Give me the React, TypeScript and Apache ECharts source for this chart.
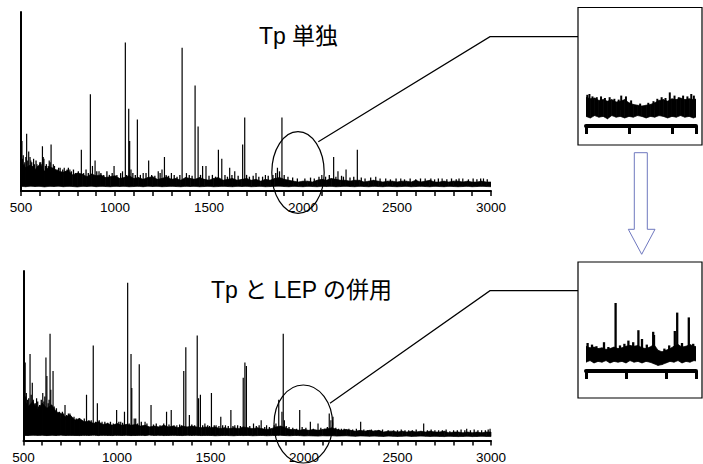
import React, { useEffect, useRef } from "react";
import * as echarts from "echarts";

// ---- main spectra (m/z 500–3000), intensities in % of axis height ----
const axisMin = 500;
const axisMax = 3000;
const axisInterval = 500;

const noiseStart = 500;
const noiseStep = 25;

const topNoiseHi = [
  16, 13, 14.5, 12, 15, 11, 13.5, 12.5, 11, 10.5,
  11.5, 9, 10, 9.5, 8, 9.5, 8.5, 9, 7.5, 8,
  8.5, 7, 7.5, 8.5, 7, 7.5, 6.5, 7.5, 8, 6.5,
  7, 8, 6.5, 7, 6, 7.5, 7, 6.5, 7.5, 6.5,
  6, 7, 7.5, 6, 6.5, 7, 6, 6.5, 7, 6,
  6.5, 5.5, 6.5, 6, 7, 7.5, 6.5, 6, 5.5, 5,
  5.5, 5.5, 5, 6, 6.5, 6, 7, 6.5, 6, 6,
  5.5, 6, 6, 5, 5.5, 6, 5.5, 5, 5.5, 5.5,
  5, 5.5, 5.5, 5, 6, 5, 5.5, 6, 5, 5,
  5.5, 5, 5.5, 5.5, 5, 5.5, 5, 5, 5.5, 5,
  5,
];
const topNoiseLo = [
  2.6, 2.4, 2.7, 2.5, 2.6, 2.3, 2.6, 2.5, 2.7, 2.4,
  2.6, 2.5, 2.3, 2.6, 2.5, 2.7, 2.4, 2.6, 2.5, 2.4,
  2.6, 2.5, 2.6, 2.4, 2.5, 2.6, 2.4, 2.7, 2.5, 2.6,
  2.4, 2.5, 2.6, 2.5, 2.4, 2.6, 2.5, 2.6, 2.4, 2.5,
  2.6, 2.4, 2.5, 2.6, 2.5, 2.4, 2.6, 2.5, 2.6, 2.4,
  2.5, 2.6, 2.4, 2.5, 2.6, 2.7, 2.5, 2.4, 2.6, 2.5,
  2.4, 2.6, 2.5, 2.4, 2.6, 2.5, 2.6, 2.4, 2.5, 2.6,
  2.5, 2.4, 2.6, 2.5, 2.4, 2.6, 2.5, 2.4, 2.6, 2.5,
  2.4, 2.5, 2.6, 2.4, 2.5, 2.6, 2.5, 2.4, 2.6, 2.5,
  2.4, 2.6, 2.5, 2.4, 2.5, 2.6, 2.4, 2.5, 2.6, 2.5,
  2.4,
];
const topPeaks: [number, number][] = [
  [505, 28], [512, 20], [520, 16], [530, 32], [541, 22], [548, 19], [552, 17], [560, 14],
  [567, 18], [575, 12], [585, 15], [595, 13], [605, 16], [614, 25], [622, 18], [630, 14],
  [640, 12], [650, 17], [660, 26], [672, 15], [685, 11], [700, 13], [715, 10], [730, 13],
  [745, 12], [760, 12], [821, 23], [869, 54], [880, 14], [894, 17], [915, 11], [995, 14],
  [1040, 11], [1055, 83], [1073, 46], [1078, 28], [1085, 12], [1119, 40], [1150, 10],
  [1179, 17], [1230, 11], [1250, 12], [1263, 19], [1300, 10], [1357, 80], [1380, 10],
  [1426, 59], [1442, 36], [1466, 14], [1484, 14], [1550, 23], [1568, 18], [1610, 13],
  [1637, 11], [1679, 26], [1690, 41], [1750, 10], [1800, 9], [1864, 13], [1888, 41],
  [2100, 9], [2163, 19], [2186, 11], [2229, 12], [2289, 23], [2387, 8], [2520, 7],
  [2650, 7], [2740, 7], [2850, 7], [2960, 7],
];
const topNoiseSpikes: [number, number][] = [
  [508, 18], [517, 15], [526, 19], [536, 17], [557, 16], [571, 15], [580, 17], [590, 14],
  [600, 16], [611, 15], [618, 19], [635, 15], [645, 14], [655, 16], [666, 13], [678, 14],
  [692, 12], [708, 13], [722, 12], [737, 11], [752, 13], [768, 11], [779, 12], [790, 10],
  [805, 11], [833, 10], [846, 12], [858, 10], [903, 11], [925, 10], [940, 9], [957, 11],
  [970, 9], [985, 10], [1010, 9], [1030, 10], [1062, 9], [1095, 10], [1108, 9], [1135, 9],
  [1165, 10], [1195, 9], [1212, 8.5], [1240, 10], [1272, 9], [1285, 8.5], [1315, 9],
  [1330, 8], [1345, 9], [1395, 9], [1410, 8.5], [1455, 9], [1500, 8.5], [1518, 9],
  [1535, 8], [1585, 9], [1598, 8], [1622, 9], [1655, 8.5], [1700, 9], [1715, 8],
  [1735, 8.5], [1765, 8], [1785, 8], [1815, 8.5], [1840, 9], [1855, 10], [1875, 11],
  [1900, 9], [1920, 8], [1945, 7.5], [1970, 7], [2010, 7], [2040, 7.5], [2060, 7],
  [2085, 8], [2120, 8], [2140, 9], [2175, 8], [2205, 8.5], [2215, 8], [2250, 7.5],
  [2270, 8], [2310, 7.5], [2330, 7], [2360, 7.5], [2410, 7], [2440, 7], [2465, 6.5],
  [2495, 7], [2540, 6.5], [2570, 7], [2600, 6.5], [2625, 7], [2680, 7], [2700, 6.5],
  [2720, 7], [2765, 6.5], [2790, 7], [2815, 6.5], [2830, 7], [2880, 6.5], [2905, 7],
  [2925, 6.5], [2945, 7], [2980, 6.5],
];

const bottomNoiseHi = [
  24, 20, 23, 18, 22, 19, 21, 17, 16, 14,
  15, 12, 13, 11, 11.5, 10, 11, 9.5, 10, 9,
  10, 9, 9.5, 9, 9.5, 8.5, 9, 8, 8.5, 8,
  9, 8, 8.5, 7.5, 8.5, 8, 8.5, 8, 7.5, 8,
  7.5, 8, 7, 7.5, 7, 7.5, 7, 8, 7.5, 7,
  7.5, 7, 6.5, 7, 8, 8.5, 7.5, 6.5, 6.5, 6,
  6.5, 6, 6.5, 6, 6.5, 7, 7.5, 6.5, 6, 6.5,
  6, 5.5, 6, 5.5, 6, 5.5, 6, 5, 5.5, 5.5,
  5, 5.5, 5, 5.5, 5, 5.5, 5, 5.5, 5, 5,
  5.5, 4.5, 5, 5, 4.5, 5, 4.5, 5, 4.5, 5,
  5,
];
const bottomNoiseLo = [
  3.2, 3, 3.3, 3.1, 3.2, 2.9, 3.2, 3, 3.3, 3,
  3.1, 3, 2.9, 3.1, 3, 3.2, 2.9, 3.1, 3, 2.9,
  3.1, 3, 3.1, 2.9, 3, 3.1, 2.9, 3.2, 3, 3.1,
  2.9, 3, 3.1, 3, 2.9, 3.1, 3, 3.1, 2.9, 3,
  3, 2.8, 2.9, 3, 2.9, 2.8, 3, 2.9, 3, 2.8,
  2.9, 3, 2.8, 2.9, 3, 3.1, 2.9, 2.8, 3, 2.9,
  2.7, 2.8, 2.7, 2.6, 2.8, 2.7, 2.8, 2.6, 2.7, 2.8,
  2.6, 2.5, 2.7, 2.6, 2.5, 2.6, 2.5, 2.4, 2.6, 2.5,
  2.4, 2.5, 2.6, 2.4, 2.5, 2.6, 2.5, 2.4, 2.5, 2.4,
  2.3, 2.5, 2.4, 2.3, 2.4, 2.5, 2.3, 2.4, 2.5, 2.4,
  2.3,
];
const bottomPeaks: [number, number][] = [
  [505, 20], [509, 46], [515, 28], [522, 24], [535, 51], [547, 34], [558, 20], [570, 25],
  [580, 20], [590, 18], [603, 28], [620, 49], [625, 38], [642, 63], [646, 30], [658, 41],
  [670, 17], [685, 14], [700, 13], [722, 21], [740, 16], [760, 12], [790, 11], [837, 27],
  [873, 56], [895, 22], [920, 11], [998, 18], [1020, 11], [1040, 17], [1057, 93],
  [1075, 51], [1079, 31], [1092, 13], [1100, 13], [1119, 45], [1150, 11], [1182, 21],
  [1265, 17], [1290, 18], [1320, 9], [1357, 41], [1368, 55], [1387, 15], [1429, 62],
  [1436, 25], [1446, 27], [1470, 10], [1505, 28], [1530, 9], [1555, 14], [1580, 9],
  [1609, 18], [1630, 9], [1675, 37], [1684, 46], [1692, 44], [1730, 10], [1771, 12],
  [1800, 9], [1865, 24], [1882, 17], [1889, 63], [1895, 12], [1977, 18], [2034, 11],
  [2075, 10], [2135, 16], [2144, 12], [2155, 14], [2200, 7], [2240, 7], [2303, 11],
  [2400, 6], [2480, 6], [2560, 6], [2640, 10], [2720, 6], [2800, 6], [2870, 7],
  [2950, 6], [2995, 7],
];
const bottomNoiseSpikes: [number, number][] = [
  [512, 26], [519, 22], [528, 25], [541, 27], [552, 24], [563, 22], [576, 23], [586, 21],
  [595, 24], [609, 23], [614, 26], [632, 22], [637, 24], [651, 21], [664, 20], [676, 19],
  [692, 17], [708, 17], [715, 16], [731, 15], [748, 16], [755, 14], [770, 14], [782, 13],
  [798, 13], [810, 12], [825, 13], [850, 12], [862, 12], [885, 11], [905, 12], [935, 11],
  [950, 10.5], [965, 11], [980, 10], [1010, 11], [1030, 10.5], [1065, 10], [1110, 10],
  [1130, 11], [1160, 10], [1195, 9.5], [1210, 10], [1230, 9], [1250, 10], [1278, 9.5],
  [1305, 9], [1335, 9.5], [1345, 9], [1400, 9.5], [1415, 9], [1458, 9], [1485, 9],
  [1495, 8.5], [1520, 9], [1545, 8.5], [1565, 9], [1595, 8.5], [1620, 8.5], [1645, 9],
  [1660, 8.5], [1710, 8.5], [1745, 8.5], [1760, 9], [1790, 8], [1815, 8], [1840, 9],
  [1850, 10], [1905, 8.5], [1920, 8], [1940, 7.5], [1960, 7], [1990, 8], [2010, 7.5],
  [2050, 7], [2090, 7.5], [2110, 7], [2125, 8], [2170, 7.5], [2185, 7], [2215, 7],
  [2260, 6.5], [2280, 7], [2320, 6.5], [2340, 6], [2360, 6.5], [2380, 6], [2420, 6.5],
  [2450, 6], [2500, 6], [2520, 6.5], [2540, 6], [2580, 6], [2600, 6.5], [2660, 6],
  [2680, 6.5], [2700, 6], [2740, 6], [2760, 6.5], [2780, 5.5], [2820, 6], [2840, 6.5],
  [2860, 6], [2890, 6], [2910, 6.5], [2930, 6], [2970, 6], [2985, 6.5],
];
const mainStickBase = 3;

// ---- zoomed insets (m/z ~1900–2170) ----
const insetStart = 1900;
const insetStep = 10;
const insetTopMax = 2156;
const insetBottomMax = 2175;
const insetInterval = 100;

const insetTopHi = [
  36, 34, 35, 32, 33, 31, 33, 30, 31, 33,
  29, 27, 26, 25, 26, 27, 29, 32, 33, 31,
  34, 33, 35, 33, 34, 33, 34,
];
const insetTopLo = [
  12, 10, 13, 11, 12, 9, 13, 11, 12, 10,
  12, 11, 13, 12, 10, 12, 11, 13, 12, 10,
  12, 11, 13, 11, 12, 10, 12,
];
const insetTopPeaks: [number, number][] = [
  [1903, 39], [1908, 40], [1915, 37], [1925, 36], [1935, 37], [1944, 35], [1955, 36],
  [1966, 34], [1976, 33], [1982, 38], [1993, 37], [2005, 32], [2026, 28], [2045, 29],
  [2057, 31], [2066, 34], [2076, 36], [2085, 35], [2095, 42], [2106, 38], [2116, 36],
  [2126, 38], [2136, 37], [2145, 40], [2151, 38],
];

const insetBottomHi = [
  31, 29, 30, 28, 29, 27, 28, 30, 28, 29,
  31, 32, 31, 32, 29, 28, 30, 33, 26, 24,
  26, 28, 31, 33, 30, 31, 33, 31, 30,
];
const insetBottomLo = [
  11, 13, 10, 12, 11, 13, 10, 12, 11, 12,
  10, 13, 11, 12, 10, 12, 11, 9, 7, 8,
  10, 12, 11, 13, 10, 12, 11, 13, 12,
];
const insetBottomPeaks: [number, number][] = [
  [1904, 35], [1915, 33], [1926, 31], [1945, 36], [1956, 30], [1974, 85], [1985, 32],
  [1996, 34], [2006, 38], [2018, 36], [2031, 51], [2040, 40], [2052, 33], [2068, 49],
  [2070, 45], [2096, 28], [2108, 32], [2122, 50], [2128, 73], [2140, 35], [2157, 67],
  [2168, 34],
];
const insetStickBase = 20;

const topTitle = "Tp 単独";
const bottomTitle = "Tp と LEP の併用";

const FONT = '"Liberation Sans", Arial, "Noto Sans CJK JP", sans-serif';

function bandItems(start: number, step: number, lo: number[], hi: number[]) {
  const n = Math.min(lo.length, hi.length);
  const out: number[][] = [];
  for (let i = 0; i < n - 1; i++) {
    out.push([start + i * step, lo[i], hi[i], start + (i + 1) * step, lo[i + 1], hi[i + 1]]);
  }
  return out;
}

const renderBand = (_params: any, api: any) => {
  const a = api.coord([api.value(0), api.value(2)]);
  const b = api.coord([api.value(3), api.value(5)]);
  const c = api.coord([api.value(3), api.value(4)]);
  const d = api.coord([api.value(0), api.value(1)]);
  return {
    type: "polygon",
    shape: { points: [a, b, c, d] },
    style: { fill: "#000", stroke: "#000", lineWidth: 0.7 },
  };
};

const makeStick = (w: number) => (_params: any, api: any) => {
  const p1 = api.coord([api.value(0), api.value(2)]);
  const p2 = api.coord([api.value(0), api.value(1)]);
  return {
    type: "line",
    shape: { x1: p1[0], y1: p1[1], x2: p2[0], y2: p2[1] },
    style: { stroke: "#000", lineWidth: w },
  };
};

export default function App() {
  const ref = useRef<HTMLDivElement>(null);

  useEffect(() => {
    if (!ref.current) return;
    const chart = echarts.init(ref.current, undefined, { renderer: "svg" });

    const mainX = (gridIndex: number) => ({
      type: "value",
      gridIndex,
      min: axisMin,
      max: axisMax,
      interval: axisInterval,
      axisLine: { show: true, onZero: false, lineStyle: { color: "#000", width: 2 } },
      axisTick: { show: true, length: 5, lineStyle: { color: "#000", width: 1.5 } },
      minorTick: { show: true, splitNumber: 5, length: 5, lineStyle: { color: "#000", width: 1.5 } },
      axisLabel: {
        color: "#000",
        fontSize: 13.5,
        fontFamily: FONT,
        margin: 10,
        formatter: (v: number) => String(v),
      },
      splitLine: { show: false },
      minorSplitLine: { show: false },
    });
    const mainY = (gridIndex: number) => ({
      type: "value",
      gridIndex,
      min: 0,
      max: 100,
      axisLine: { show: true, onZero: false, lineStyle: { color: "#000", width: 2 } },
      axisTick: { show: false },
      axisLabel: { show: false },
      splitLine: { show: false },
    });
    const insetX = (gridIndex: number, max: number) => ({
      type: "value",
      gridIndex,
      min: insetStart,
      max,
      interval: insetInterval,
      axisLine: { show: true, onZero: false, lineStyle: { color: "#000", width: 4 } },
      axisTick: { show: true, length: 8, lineStyle: { color: "#000", width: 3 } },
      axisLabel: { show: false },
      splitLine: { show: false },
    });
    const insetY = (gridIndex: number) => ({
      type: "value",
      gridIndex,
      min: 0,
      max: 100,
      show: false,
      splitLine: { show: false },
    });

    const band = (idx: number, data: number[][]) => ({
      type: "custom",
      xAxisIndex: idx,
      yAxisIndex: idx,
      clip: true,
      silent: true,
      renderItem: renderBand,
      encode: { x: [0, 3], y: [1, 2, 4, 5] },
      data,
    });
    const sticks = (idx: number, peaks: [number, number][], base: number, w: number) => ({
      type: "custom",
      xAxisIndex: idx,
      yAxisIndex: idx,
      clip: true,
      silent: true,
      renderItem: makeStick(w),
      encode: { x: 0, y: [1, 2] },
      data: peaks.map(([m, v]) => [m, v, base]),
    });

    const stroke = { stroke: "#000", lineWidth: 1.2, fill: "none" };
    const arrowColor = "#6f78bf";

    chart.setOption({
      animation: false,
      backgroundColor: "#fff",
      grid: [
        { left: 21, top: 12, width: 470, height: 179 },
        { left: 23.5, top: 271, width: 467.5, height: 169.5 },
        { left: 586, top: 46, width: 110, height: 80 },
        { left: 586, top: 291, width: 110, height: 80 },
      ],
      xAxis: [mainX(0), mainX(1), insetX(2, insetTopMax), insetX(3, insetBottomMax)],
      yAxis: [mainY(0), mainY(1), insetY(2), insetY(3)],
      series: [
        band(0, bandItems(noiseStart, noiseStep, topNoiseLo, topNoiseHi)),
        sticks(0, topNoiseSpikes, mainStickBase, 1.3),
        sticks(0, topPeaks, mainStickBase, 1.2),
        band(1, bandItems(noiseStart, noiseStep, bottomNoiseLo, bottomNoiseHi)),
        sticks(1, bottomNoiseSpikes, mainStickBase, 1.3),
        sticks(1, bottomPeaks, mainStickBase, 1.2),
        band(2, bandItems(insetStart, insetStep, insetTopLo, insetTopHi)),
        sticks(2, insetTopPeaks, insetStickBase, 2),
        band(3, bandItems(insetStart, insetStep, insetBottomLo, insetBottomHi)),
        sticks(3, insetBottomPeaks, insetStickBase, 2.3),
      ],
      graphic: [
        {
          type: "text", x: 298.5, y: 36, z: 100,
          style: { text: topTitle, fill: "#000", font: `23px ${FONT}`, textAlign: "center", textVerticalAlign: "middle" },
        },
        {
          type: "text", x: 301.5, y: 290, z: 100,
          style: { text: bottomTitle, fill: "#000", font: `23px ${FONT}`, textAlign: "center", textVerticalAlign: "middle" },
        },
        { type: "ellipse", z: 100, shape: { cx: 298, cy: 172.5, rx: 26.2, ry: 40.8 }, style: stroke },
        { type: "ellipse", z: 100, shape: { cx: 303.3, cy: 424, rx: 29.3, ry: 39 }, style: stroke },
        { type: "polyline", z: 100, shape: { points: [[318.3, 141.7], [490, 36.7], [578, 36.7]] }, style: stroke },
        { type: "polyline", z: 100, shape: { points: [[330, 403.3], [490, 290.7], [578, 290.7]] }, style: stroke },
        { type: "rect", z: 100, shape: { x: 578, y: 7.5, width: 124, height: 137.5 }, style: stroke },
        { type: "rect", z: 100, shape: { x: 578, y: 262, width: 124, height: 136 }, style: stroke },
        {
          type: "polygon", z: 100,
          shape: {
            points: [
              [634.3, 152.7], [647.3, 152.7], [647.3, 229.3], [655, 229.3],
              [641.7, 254.3], [628.3, 229.3], [634.3, 229.3],
            ],
          },
          style: { stroke: arrowColor, lineWidth: 1, fill: "#fff" },
        },
      ],
    });

    return () => chart.dispose();
  }, []);

  return (
    <div
      ref={ref}
      style={{ position: "fixed", left: 0, top: 0, width: 703, height: 464, background: "#fff" }}
    />
  );
}
